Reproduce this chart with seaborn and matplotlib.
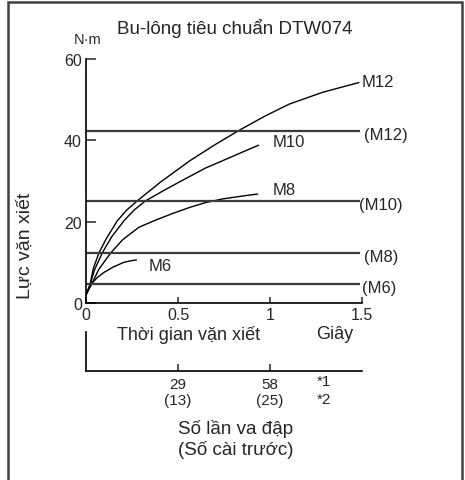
import numpy as np
import pandas as pd
import matplotlib
matplotlib.use("Agg")
import matplotlib.pyplot as plt
import seaborn as sns
from matplotlib.patches import Rectangle

# curve data (time in s, torque in N·m)
m12_t = [0, 0.022, 0.04, 0.07, 0.11, 0.17, 0.22, 0.278, 0.404, 0.565, 0.7, 0.834, 0.97, 1.104, 1.285, 1.4, 1.483]
m12_v = [2.0, 4.5, 8.5, 12.3, 15.8, 20.2, 22.8, 25.1, 29.7, 35.0, 38.9, 42.5, 45.9, 48.9, 51.8, 53.2, 54.2]
m10_t = [0, 0.022, 0.045, 0.088, 0.14, 0.206, 0.26, 0.323, 0.42, 0.513, 0.563, 0.65, 0.743, 0.85, 0.938]
m10_v = [2.0, 4.5, 8.0, 12.3, 16.3, 20.2, 22.8, 25.1, 27.6, 29.9, 31.1, 33.2, 35.0, 37.1, 38.8]
m8_t = [0, 0.029, 0.07, 0.134, 0.2, 0.287, 0.368, 0.47, 0.563, 0.65, 0.743, 0.85, 0.933]
m8_v = [2.0, 4.5, 8.3, 12.3, 15.6, 18.6, 20.2, 22.0, 23.5, 24.7, 25.6, 26.3, 26.8]
m6_t = [0, 0.025, 0.06, 0.097, 0.15, 0.206, 0.24, 0.274]
m6_v = [2.0, 4.5, 6.2, 7.5, 8.9, 10.0, 10.35, 10.6]

curve_names = ["M12", "M10", "M8", "M6"]
curve_label_pos = [(1.50, 54.5), (1.012, 39.6), (1.012, 27.8), (0.341, 9.3)]

# standard torque levels (horizontal lines)
std_names = ["(M12)", "(M10)", "(M8)", "(M6)"]
std_vals = [42.3, 25.0, 12.4, 4.6]
std_label_x = [1.51, 1.485, 1.51, 1.50]

x_ticks = [0, 0.5, 1, 1.5]
x_ticklabels = ["0", "0.5", "1", "1.5"]
y_ticks = [0, 20, 40, 60]
hit_ticks = [0.5, 1.0]
hit_labels = ["29\n(13)", "58\n(25)"]

df = pd.concat([
    pd.DataFrame({"t": m12_t, "v": m12_v, "bolt": "M12"}),
    pd.DataFrame({"t": m10_t, "v": m10_v, "bolt": "M10"}),
    pd.DataFrame({"t": m8_t, "v": m8_v, "bolt": "M8"}),
    pd.DataFrame({"t": m6_t, "v": m6_v, "bolt": "M6"}),
])

sns.set_style("white")
plt.rcParams["font.family"] = ["Liberation Sans", "DejaVu Sans"]

W, H = 465, 481
fig = plt.figure(figsize=(W / 100, H / 100), dpi=100)

def fx(px):
    return px / W

def fy(py):
    return 1 - py / H

# main axes
ax = fig.add_axes([fx(86), fy(304), fx(362) - fx(86), fy(60) - fy(304)])
ax.patch.set_alpha(0)
for name in curve_names:
    sub = df[df["bolt"] == name]
    sns.lineplot(data=sub, x="t", y="v", ax=ax, color="black", lw=1.0,
                 sort=False, estimator=None, legend=False)
ax.hlines(std_vals, 0, 1.49, color="#3a3a3a", lw=1.6)

for name, (px, py) in zip(curve_names, curve_label_pos):
    ax.text(px, py, name, fontsize=12, va="center", ha="left")
for name, v, lx in zip(std_names, std_vals, std_label_x):
    ax.text(lx, v - 0.9, name, fontsize=12, va="center", ha="left")

ax.set_xlim(0, 1.5)
ax.set_ylim(0, 60)
ax.set_xticks(x_ticks)
ax.set_xticklabels(x_ticklabels)
ax.set_yticks(y_ticks)
ax.tick_params(axis="y", left=True, direction="in", length=7.5, width=1.1, labelsize=11.5, pad=3)
ax.tick_params(axis="x", bottom=True, direction="in", length=4.5, width=1.1, labelsize=11.5, pad=3)
ax.set_xlabel("")
ax.set_ylabel("")
for s in ["top", "right"]:
    ax.spines[s].set_visible(False)
for s in ["left", "bottom"]:
    ax.spines[s].set_linewidth(1.2)
    ax.spines[s].set_color("black")

# second axis: number of hits
ax2 = fig.add_axes([fx(86), fy(372), fx(362) - fx(86), fy(333) - fy(372)])
ax2.patch.set_alpha(0)
ax2.set_xlim(0, 1.5)
ax2.set_ylim(0, 1)
ax2.set_xticks(hit_ticks)
ax2.set_xticklabels(hit_labels)
ax2.set_yticks([])
ax2.tick_params(axis="x", bottom=True, direction="in", length=5, width=1.1, labelsize=11, pad=4)
for s in ["top", "right"]:
    ax2.spines[s].set_visible(False)
for s in ["left", "bottom"]:
    ax2.spines[s].set_linewidth(1.2)
    ax2.spines[s].set_color("black")

# texts
fig.text(fx(235), fy(28), "Bu-lông tiêu chuẩn DTW074", fontsize=13.5, ha="center", va="center")
fig.text(fx(88), fy(40), "N·m", fontsize=10.5, ha="center", va="center")
fig.text(fx(25), fy(246), "Lực vặn xiết", fontsize=14, rotation=90, ha="center", va="center")
fig.text(fx(117), fy(335), "Thời gian vặn xiết", fontsize=13, ha="left", va="center")
fig.text(fx(316), fy(335), "Giây", fontsize=13, ha="left", va="center")
fig.text(fx(317), fy(382), "*1", fontsize=11, ha="left", va="center")
fig.text(fx(317), fy(400), "*2", fontsize=11, ha="left", va="center")
fig.text(fx(236), fy(429), "Số lần va đập", fontsize=13.5, ha="center", va="center")
fig.text(fx(236), fy(450), "(Số cài trước)", fontsize=13.5, ha="center", va="center")

# outer frame (open at the bottom)
fig.patches.append(Rectangle((fx(8), fy(500)), fx(462) - fx(8), fy(3) - fy(500),
                             transform=fig.transFigure, fill=False,
                             edgecolor="#404040", lw=1.8))

fig.savefig("out.png", dpi=100)
